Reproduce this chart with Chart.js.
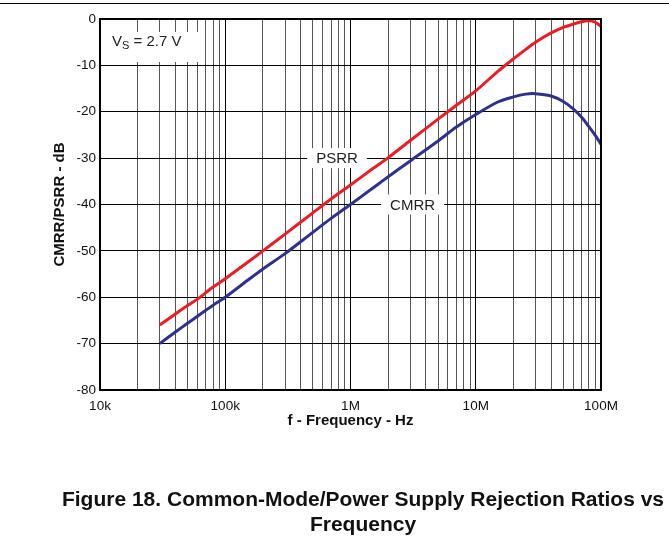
<!DOCTYPE html>
<html>
<head>
<meta charset="utf-8">
<script src="https://cdn.jsdelivr.net/npm/chart.js@4.4.1/dist/chart.umd.min.js"></script>
<style>
  body { margin: 0; background: #fff; }
  #wrap { position: relative; width: 669px; height: 542px; overflow: hidden; font-family: "Liberation Sans", Arial, sans-serif; }
  #rule { position: absolute; left: 0; top: 3px; width: 669px; height: 1px; background: #000; }
  canvas { position: absolute; left: 0; top: 0; }
  .cap { position: absolute; left: 0; width: 726px; text-align: center; font-weight: bold; font-size: 21px; white-space: nowrap; color: #111; line-height: 25px; }
</style>
</head>
<body>
<div id="wrap">
  <canvas id="chart" width="669" height="542"></canvas>
  <div id="rule"></div>
  <div class="cap" style="top:486px;">Figure 18. Common-Mode/Power Supply Rejection Ratios vs</div>
  <div class="cap" style="top:511px;">Frequency</div>
</div>
<script>
const freqHz = [3e4, 4e4, 5e4, 6e4, 7e4, 8e4, 1e5, 1.5e5, 2e5, 3e5, 5e5, 7e5,
  1e6, 1.5e6, 2e6, 3e6, 5e6, 7e6, 1e7, 1.5e7, 2e7, 2.5e7, 3e7, 4e7, 5e7, 6e7, 7e7, 8e7, 9e7, 1e8];
const psrrDb = [-66, -63.6, -61.8, -60.4, -59, -57.8, -56, -52.5, -50, -46.4, -41.8, -38.8,
  -35.8, -32.3, -29.9, -26.2, -21.6, -18.6, -15.5, -11.3, -8.6, -6.6, -5, -3, -1.8, -1.1, -0.6, -0.4, -0.7, -1.6];
const cmrrDb = [-70, -67.5, -65.6, -64.1, -62.8, -61.7, -60, -56.4, -53.9, -50.6, -46, -43,
  -40, -36.5, -34, -30.6, -26.3, -23.3, -20.6, -17.9, -16.8, -16.2, -16.1, -16.6, -17.8, -19.4, -21.2, -23.2, -25.1, -27];

const decadeValues = [1e4, 1e5, 1e6, 1e7, 1e8];
const decadeLabels = ['10k', '100k', '1M', '10M', '100M'];
const yMin = -80, yMax = 0, yStep = 10;

// in-plot labels
const curveNotes = [
  { text: 'PSRR', f: 7.8e5, db: -30 },
  { text: 'CMRR', f: 3.13e6, db: -40 }
];

const FONT = '"Liberation Sans", Arial, sans-serif';

// grid lines at 1..9 x each decade
const gridFreqs = [];
for (let d = 0; d < decadeValues.length - 1; d++) {
  for (let m = 1; m <= 9; m++) gridFreqs.push(m * decadeValues[d]);
}
gridFreqs.push(decadeValues[decadeValues.length - 1]);

const annotate = {
  id: 'annotate',
  beforeDatasetsDraw(chart) {
    const { ctx, chartArea, scales: { x, y } } = chart;
    ctx.save();
    ctx.font = '15px ' + FONT;
    ctx.textBaseline = 'middle';
    ctx.textAlign = 'center';
    curveNotes.forEach(n => {
      const px = x.getPixelForValue(n.f);
      const py = y.getPixelForValue(n.db);
      const w = ctx.measureText(n.text).width;
      ctx.fillStyle = '#fff';
      ctx.fillRect(px - w / 2 - 9, py - 10, w + 18, 20);
      ctx.fillStyle = '#222';
      ctx.fillText(n.text, px, py + 1);
    });
    // V_S = 2.7 V
    const bx = chartArea.left + 1, by = chartArea.top + 13;
    ctx.fillStyle = '#fff';
    ctx.fillRect(bx, by, 100, 30);
    ctx.fillStyle = '#222';
    ctx.textAlign = 'left';
    ctx.textBaseline = 'alphabetic';
    let tx = chartArea.left + 12;
    const base = chartArea.top + 27;
    ctx.font = '15px ' + FONT;
    ctx.fillText('V', tx, base);
    tx += ctx.measureText('V').width;
    ctx.font = '11px ' + FONT;
    ctx.fillText('S', tx, base + 3);
    tx += ctx.measureText('S').width;
    ctx.font = '15px ' + FONT;
    ctx.fillText(' = 2.7 V', tx, base);
    ctx.restore();
  },
  afterDraw(chart) {
    const { ctx, chartArea: a } = chart;
    ctx.save();
    ctx.strokeStyle = '#000';
    ctx.lineWidth = 2;
    ctx.strokeRect(a.left, a.top, a.right - a.left, a.bottom - a.top);
    ctx.restore();
  }
};

new Chart(document.getElementById('chart'), {
  type: 'scatter',
  data: {
    datasets: [
      {
        label: 'PSRR',
        data: freqHz.map((f, i) => ({ x: f, y: psrrDb[i] })),
        showLine: true,
        borderColor: '#ed1c24',
        borderWidth: 3,
        pointRadius: 0,
        tension: 0.3,
        fill: false
      },
      {
        label: 'CMRR',
        data: freqHz.map((f, i) => ({ x: f, y: cmrrDb[i] })),
        showLine: true,
        borderColor: '#2e3192',
        borderWidth: 3,
        pointRadius: 0,
        tension: 0.3,
        fill: false
      }
    ]
  },
  options: {
    responsive: false,
    animation: false,
    layout: { padding: { left: 0, top: 19, right: 68, bottom: 102 } },
    plugins: { legend: { display: false }, tooltip: { enabled: false } },
    scales: {
      x: {
        type: 'logarithmic',
        position: 'bottom',
        min: decadeValues[0],
        max: decadeValues[decadeValues.length - 1],
        afterBuildTicks(s) { s.ticks = gridFreqs.map(v => ({ value: v })); },
        afterFit(s) { s.height = 50; },
        ticks: {
          autoSkip: false,
          maxRotation: 0,
          padding: 8,
          color: '#111',
          font: { size: 13.5, family: FONT },
          callback(v) {
            const i = decadeValues.indexOf(v);
            return i >= 0 ? decadeLabels[i] : '';
          }
        },
        grid: {
          drawTicks: false,
          lineWidth: 1,
          color: c => (decadeValues.indexOf(c.tick.value) >= 0 ? '#000' : '#555')
        },
        border: { display: false },
        title: {
          display: true,
          text: 'f - Frequency - Hz',
          color: '#111',
          font: { size: 15, weight: 'bold', family: FONT },
          padding: { top: 0, bottom: 10 }
        }
      },
      y: {
        type: 'linear',
        min: yMin,
        max: yMax,
        afterFit(s) { s.width = 100; },
        ticks: {
          stepSize: yStep,
          padding: 4,
          color: '#111',
          font: { size: 13.5, family: FONT }
        },
        grid: { drawTicks: false, lineWidth: 1, color: '#000' },
        border: { display: false },
        title: {
          display: true,
          text: 'CMRR/PSRR - dB',
          color: '#111',
          font: { size: 15, weight: 'bold', family: FONT },
          padding: { top: 51, bottom: 0 }
        }
      }
    }
  },
  plugins: [annotate]
});
</script>
</body>
</html>
